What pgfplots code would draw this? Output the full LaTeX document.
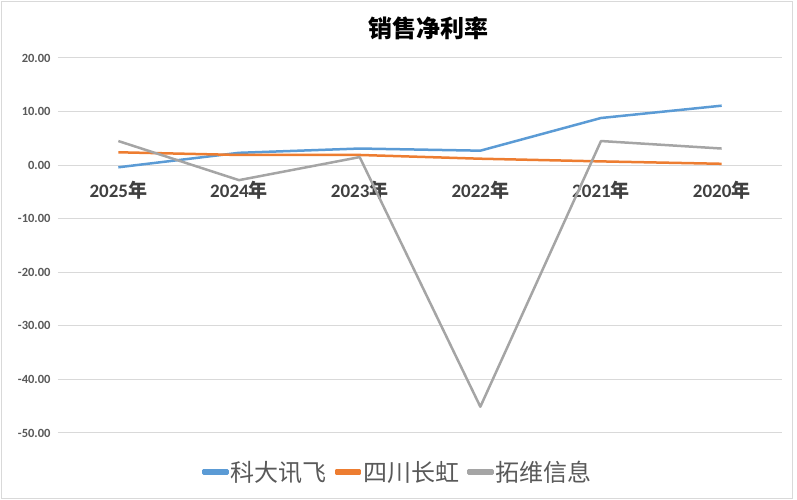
\documentclass[border=0pt]{standalone}
\usepackage{pgfplots}
\pgfplotsset{compat=1.18}
\usepackage{fontspec}
\setmainfont{Carlito}
\newfontfamily\cjk{Noto Sans CJK SC}
\definecolor{cblue}{HTML}{5B9BD5}
\definecolor{corange}{HTML}{ED7D31}
\definecolor{cgray}{HTML}{A5A5A5}
\definecolor{gridc}{HTML}{D9D9D9}
\definecolor{txt}{HTML}{595959}
\definecolor{txtd}{HTML}{404040}
\begin{document}
\begin{tikzpicture}[x=1pt,y=1pt]
\path[use as bounding box] (0,0) rectangle (797,500);
\draw[gridc, line width=0.8pt] (1.5,1.5) rectangle (792,498.5);
\node[font=\cjk\bfseries\fontsize{24}{28}\selectfont, text=black] at (428,472) {销售净利率};
\begin{axis}[
  at={(58pt,67pt)}, anchor=south west, scale only axis,
  width=724pt, height=375pt,
  xmin=-0.5, xmax=5.5, ymin=-50, ymax=20,
  axis x line*=middle, axis y line*=left,
  axis line style={draw=none}, tick style={draw=none},
  xtick={0,...,5},
  xticklabels={2025{\cjk 年},2024{\cjk 年},2023{\cjk 年},2022{\cjk 年},2021{\cjk 年},2020{\cjk 年}},
  ytick={-50,-40,...,20},
  ymajorgrids, grid style={gridc, line width=1pt},
  yticklabel style={anchor=east, xshift=-4pt, font=\bfseries\fontsize{12.5}{14}\selectfont, text=txt,
    /pgf/number format/.cd, fixed, fixed zerofill, precision=2, assume math mode=true},
  xticklabel style={anchor=center, yshift=-25pt, font=\bfseries\fontsize{19}{22}\selectfont, text=txtd},
  legend style={at={(0.4696,-0.104)}, anchor=center, draw=none, fill=none,
    legend columns=3, font=\cjk\fontsize{24}{28}\selectfont, text=txt,
    /tikz/every even column/.append style={column sep=6pt}},
  legend image code/.code={\fill[#1] (0pt,-1.5pt) rectangle (24pt,1.5pt);},
  every axis plot/.append style={line width=2.5pt, line join=round, mark=none},
]
\addplot[cblue] coordinates {(0,-0.4)(1,2.3)(2,3.1)(3,2.7)(4,8.8)(5,11.1)};
\addplot[corange] coordinates {(0,2.4)(1,1.9)(2,1.9)(3,1.2)(4,0.7)(5,0.25)};
\addplot[cgray] coordinates {(0,4.5)(1,-2.8)(2,1.5)(3,-45.1)(4,4.5)(5,3.1)};
\legend{科大讯飞,四川长虹,拓维信息}
\end{axis}
\end{tikzpicture}
\end{document}
